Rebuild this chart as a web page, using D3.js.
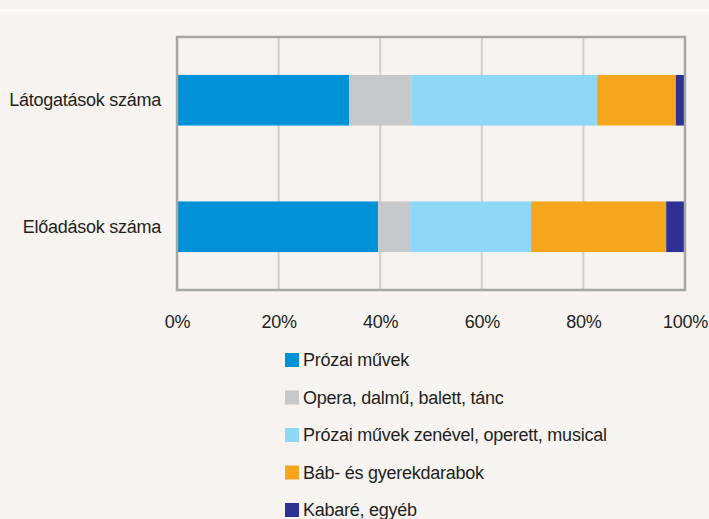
<!DOCTYPE html>
<html lang="hu">
<head>
<meta charset="utf-8">
<title>Színházi előadások és látogatások</title>
<script src="https://d3js.org/d3.v7.min.js"></script>
<style>
  body { margin: 0; background: #f6f3f0; }
  svg { display: block; font-family: "Liberation Sans", Arial, sans-serif; }
  svg text { letter-spacing: -0.25px; }
</style>
</head>
<body>
<svg width="709" height="519"></svg>
<script>
// data (shares in %)
const categories = ["Látogatások száma", "Előadások száma"];
const seriesNames = ["Prózai művek", "Opera, dalmű, balett, tánc", "Prózai művek zenével, operett, musical", "Báb- és gyerekdarabok", "Kabaré, egyéb"];
const seriesColors = ["#0091d7", "#c7c8c9", "#8fd7f7", "#f6a61d", "#2e3192"];
const visits = [33.9, 12.2, 36.6, 15.5, 1.8];
const shows = [39.6, 6.3, 23.8, 26.6, 3.7];
const xTicks = [0, 20, 40, 60, 80, 100];

const svg = d3.select("svg");
const W = 709, H = 519;
const m = { left: 177, right: 685, top: 37, bottom: 290 };

// white line near the top
svg.append("line").attr("x1", 0).attr("x2", W).attr("y1", 10.5).attr("y2", 10.5)
   .attr("stroke", "#ffffff").attr("stroke-width", 2);

const x = d3.scaleLinear().domain([0, 100]).range([m.left, m.right]);
const y = d3.scaleBand().domain(categories).range([m.top, m.bottom]).paddingInner(0.6).paddingOuter(0.3);

// gridlines
svg.append("g").selectAll("line").data(xTicks.slice(1, -1)).join("line")
   .attr("x1", d => x(d)).attr("x2", d => x(d))
   .attr("y1", m.top).attr("y2", m.bottom)
   .attr("stroke", "#cfcfcf").attr("stroke-width", 2);

// stacked bars
const rows = categories.map((c, i) => {
  const vals = i === 0 ? visits : shows;
  const o = { cat: c };
  seriesNames.forEach((s, j) => o[s] = vals[j]);
  return o;
});
const stack = d3.stack().keys(seriesNames)(rows);

svg.append("g").selectAll("g").data(stack).join("g")
   .attr("fill", (d, i) => seriesColors[i])
   .selectAll("rect").data(d => d).join("rect")
   .attr("x", d => x(d[0]))
   .attr("width", d => x(d[1]) - x(d[0]))
   .attr("y", d => y(d.data.cat))
   .attr("height", y.bandwidth());

// frame
svg.append("rect")
   .attr("x", m.left).attr("y", m.top)
   .attr("width", m.right - m.left).attr("height", m.bottom - m.top)
   .attr("fill", "none").attr("stroke", "#a5a7a7").attr("stroke-width", 2.5);

// x axis labels
const xAxis = d3.axisBottom(x).tickValues(xTicks).tickFormat(d => d + "%").tickSize(0).tickPadding(0);
const gx = svg.append("g").attr("transform", `translate(0,${m.bottom + 38})`).call(xAxis);
gx.select(".domain").remove();
gx.selectAll("text").attr("font-size", 18).attr("fill", "#231f20")
  .attr("font-family", "Liberation Sans, Arial, sans-serif").attr("dy", 0);

// y axis labels
const yAxis = d3.axisLeft(y).tickSize(0).tickPadding(0);
const gy = svg.append("g").attr("transform", `translate(${m.left - 16},0)`).call(yAxis);
gy.select(".domain").remove();
gy.selectAll("text").attr("font-size", 18).attr("fill", "#231f20")
  .attr("font-family", "Liberation Sans, Arial, sans-serif");

// legend
const lg = svg.append("g").attr("transform", "translate(285,353)");
const item = lg.selectAll("g").data(seriesNames).join("g")
   .attr("transform", (d, i) => `translate(0,${i * 37.5})`);
item.append("rect").attr("width", 14).attr("height", 14)
   .attr("fill", (d, i) => seriesColors[i]);
item.append("text").attr("x", 18).attr("y", 7).attr("dy", "0.35em")
   .attr("font-size", 18).attr("fill", "#231f20").text(d => d);
</script>
</body>
</html>
